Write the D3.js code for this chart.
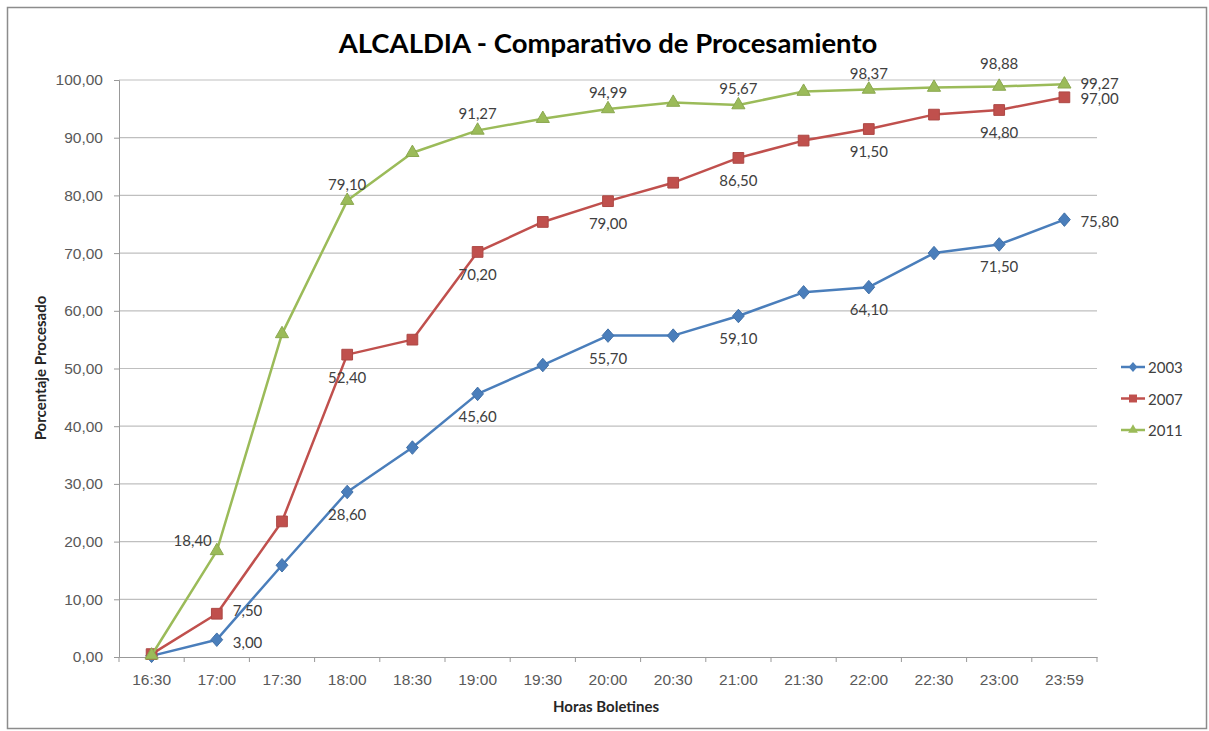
<!DOCTYPE html>
<html>
<head>
<meta charset="utf-8">
<script src="https://cdn.jsdelivr.net/npm/d3@7"></script>
<style>
  body { margin: 0; background: #fff; }
  svg { font-family: Lato, "Open Sans", sans-serif; }
</style>
</head>
<body>
<svg id="chart" width="1209" height="731"></svg>
<script>
// data
const horas = ['16:30','17:00','17:30','18:00','18:30','19:00','19:30','20:00','20:30','21:00','21:30','22:00','22:30','23:00','23:59'];
const serie2003 = [0.2, 3.00, 15.9, 28.60, 36.3, 45.60, 50.6, 55.70, 55.7, 59.10, 63.2, 64.10, 70.0, 71.50, 75.80];
const serie2007 = [0.5, 7.50, 23.5, 52.40, 55.0, 70.20, 75.4, 79.00, 82.2, 86.50, 89.5, 91.50, 94.0, 94.80, 97.00];
const serie2011 = [0.3, 18.40, 56.0, 79.10, 87.4, 91.27, 93.3, 94.99, 96.1, 95.67, 98.0, 98.37, 98.7, 98.88, 99.27];
const years = ['2003', '2007', '2011'];
const yTicks = [0,10,20,30,40,50,60,70,80,90,100];

// fat diamond like excel's marker
const diamond = {
  draw(ctx, size) {
    const w = Math.sqrt(size) * 0.62, h = w * 1.15;
    ctx.moveTo(0, -h); ctx.lineTo(w, 0); ctx.lineTo(0, h); ctx.lineTo(-w, 0); ctx.closePath();
  }
};

const series = [
  { name: years[0], values: serie2003, color: '#4a7ebb', symbol: diamond, size: 90, labelPos: 'below' },
  { name: years[1], values: serie2007, color: '#c0504d', symbol: d3.symbolSquare, size: 115, labelPos: 'below' },
  { name: years[2], values: serie2011, color: '#9bbb59', symbol: d3.symbolTriangle, size: 75, labelPos: 'above' }
];

const svg = d3.select('#chart');
const m = { left: 119, right: 1097, top: 80, bottom: 657 };

// outer chart frame
svg.append('rect')
  .attr('x', 7.5).attr('y', 7.5)
  .attr('width', 1199).attr('height', 721)
  .attr('fill', '#fff').attr('stroke', '#8c8c8c').attr('stroke-width', 1.5);

const x = d3.scaleBand().domain(horas).range([m.left, m.right]);
const y = d3.scaleLinear().domain([0, 100]).range([m.bottom, m.top]);
const cx = h => x(h) + x.bandwidth() / 2;
const fmt = v => v.toFixed(2).replace('.', ',');

// gridlines
svg.append('g')
  .selectAll('line')
  .data(yTicks.slice(1))
  .join('line')
    .attr('x1', m.left).attr('x2', m.right)
    .attr('y1', d => y(d)).attr('y2', d => y(d))
    .attr('stroke', '#bfbfbf').attr('stroke-width', 1.2);

// y axis
const yAxis = d3.axisLeft(y).tickValues(yTicks).tickSize(5).tickFormat(fmt);
const gy = svg.append('g').attr('transform', `translate(${m.left},0)`).call(yAxis);
gy.select('.domain').attr('stroke', '#999');
gy.selectAll('.tick line').attr('stroke', '#999');
gy.selectAll('.tick text').attr('x', -16).attr('fill', '#595959').style('font-size', '15.5px');

// x axis, ticks on category boundaries
const gx = svg.append('g').attr('transform', `translate(0,${m.bottom})`)
  .call(d3.axisBottom(x).tickSize(0).tickPadding(17));
gx.select('.domain').attr('stroke', '#999');
gx.selectAll('.tick text').attr('fill', '#595959').style('font-size', '15.5px');
gx.append('g')
  .selectAll('line')
  .data(horas.concat(['end']))
  .join('line')
    .attr('x1', (d, i) => i < horas.length ? x(d) : m.right)
    .attr('x2', (d, i) => i < horas.length ? x(d) : m.right)
    .attr('y1', 0).attr('y2', 5)
    .attr('stroke', '#999');

// lines and markers
const line = d3.line().x((d, i) => cx(horas[i])).y(d => y(d));
series.forEach(s => {
  svg.append('path')
    .datum(s.values)
    .attr('d', line)
    .attr('fill', 'none')
    .attr('stroke', s.color)
    .attr('stroke-width', 2.5)
    .attr('stroke-linejoin', 'round');

  svg.append('g')
    .selectAll('path')
    .data(s.values)
    .join('path')
      .attr('d', d3.symbol(s.symbol, s.size))
      .attr('transform', (d, i) => `translate(${cx(horas[i])},${y(d)})`)
      .attr('fill', s.color)
      .attr('stroke', d3.color(s.color).darker(0.3));
});

// data labels on every other point
series.forEach(s => {
  const idx = [1, 3, 5, 7, 9, 11, 13, 14];
  svg.append('g')
    .selectAll('text')
    .data(idx)
    .join('text')
      .attr('x', i => {
        const px = cx(horas[i]);
        if (i === 14) return px + 16;
        if (i === 1 && s.name === '2011') return px - 5;
        if (i === 1) return px + 16;
        return px;
      })
      .attr('y', i => {
        const py = y(s.values[i]);
        if (i === 14) return py + (s.name === '2011' ? -1 : s.name === '2007' ? 1 : 1);
        if (i === 1) return s.name === '2011' ? py - 11 : py - (s.name === '2007' ? 4 : -2);
        if (s.labelPos === 'above') return py - (i === 13 ? 23 : i === 11 ? 16 : 17);
        return py + 22;
      })
      .attr('text-anchor', i => (i === 14 || (i === 1 && s.name !== '2011')) ? 'start' : (i === 1 ? 'end' : 'middle'))
      .attr('dominant-baseline', 'central')
      .attr('fill', '#404040')
      .style('font-size', '15px')
      .text(i => fmt(s.values[i]));
});

// title
svg.append('text')
  .attr('x', 608).attr('y', 53)
  .attr('text-anchor', 'middle')
  .style('font-size', '27.5px').style('font-weight', 'bold')
  .attr('fill', '#000')
  .text('ALCALDIA - Comparativo de Procesamiento');

// axis titles
svg.append('text')
  .attr('x', 606).attr('y', 712)
  .attr('text-anchor', 'middle')
  .style('font-size', '15px').style('font-weight', 'bold')
  .attr('fill', '#262626')
  .text('Horas Boletines');

svg.append('text')
  .attr('transform', 'translate(46,368) rotate(-90)')
  .attr('text-anchor', 'middle')
  .style('font-size', '15px').style('font-weight', 'bold')
  .attr('fill', '#262626')
  .text('Porcentaje Procesado');

// legend
const legend = svg.append('g').attr('transform', 'translate(1121,367)');
series.forEach((s, i) => {
  const g = legend.append('g').attr('transform', `translate(0,${i * 31.5})`);
  g.append('line').attr('x1', 0).attr('x2', 24).attr('stroke', s.color).attr('stroke-width', 2.5);
  g.append('path').attr('d', d3.symbol(s.symbol, s.size * 0.55)).attr('transform', 'translate(12,0)').attr('fill', s.color);
  g.append('text').attr('x', 27).attr('dominant-baseline', 'central')
    .attr('fill', '#404040').style('font-size', '15px').text(s.name);
});
</script>
</body>
</html>
